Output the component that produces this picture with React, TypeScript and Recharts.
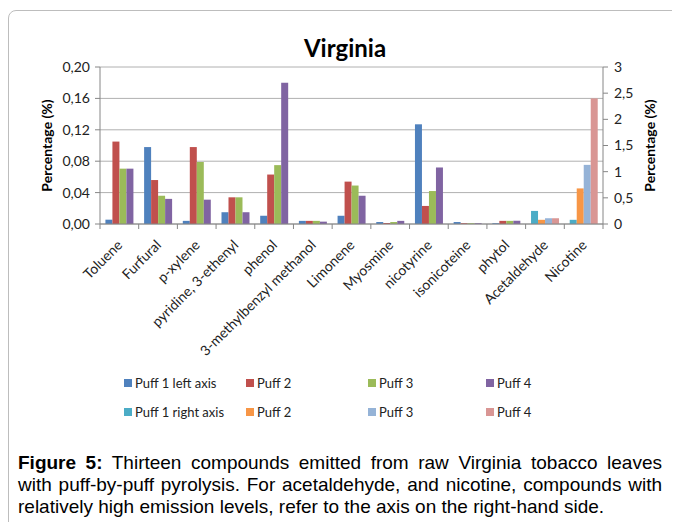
import React from 'react';
import { BarChart, Bar, XAxis, YAxis, CartesianGrid, Label } from 'recharts';

const categories = [
  'Toluene', 'Furfural', 'p-xylene', 'pyridine, 3-ethenyl', 'phenol', '3-methylbenzyl methanol',
  'Limonene', 'Myosmine', 'nicotyrine', 'isonicoteine', 'phytol', 'Acetaldehyde', 'Nicotine',
];

// left axis series (%)
const puff1Left = [0.0055, 0.098, 0.004, 0.015, 0.0105, 0.004, 0.0105, 0.0025, 0.127, 0.0025, 0.001, null, null];
const puff2Left = [0.105, 0.056, 0.098, 0.034, 0.063, 0.004, 0.054, 0.0013, 0.023, 0.001, 0.004, null, null];
const puff3Left = [0.0705, 0.036, 0.079, 0.034, 0.075, 0.004, 0.049, 0.0025, 0.042, 0.001, 0.004, null, null];
const puff4Left = [0.0705, 0.032, 0.031, 0.015, 0.18, 0.003, 0.036, 0.004, 0.072, 0.001, 0.004, null, null];

// right axis series (%)
const puff1Right = [null, null, null, null, null, null, null, null, null, null, null, 0.25, 0.08];
const puff2Right = [null, null, null, null, null, null, null, null, null, null, null, 0.08, 0.68];
const puff3Right = [null, null, null, null, null, null, null, null, null, null, null, 0.11, 1.13];
const puff4Right = [null, null, null, null, null, null, null, null, null, null, null, 0.11, 2.4];

const leftTicks = [0, 0.04, 0.08, 0.12, 0.16, 0.2];
const rightTicks = [0, 0.5, 1, 1.5, 2, 2.5, 3];

const leftSeries = [
  { key: 'l1', name: 'Puff 1 left axis', color: '#4F81BD' },
  { key: 'l2', name: 'Puff 2', color: '#C0504D' },
  { key: 'l3', name: 'Puff 3', color: '#9BBB59' },
  { key: 'l4', name: 'Puff 4', color: '#8064A2' },
];
const rightSeries = [
  { key: 'r1', name: 'Puff 1 right axis', color: '#4BACC6' },
  { key: 'r2', name: 'Puff 2', color: '#F79646' },
  { key: 'r3', name: 'Puff 3', color: '#95B3D7' },
  { key: 'r4', name: 'Puff 4', color: '#D99694' },
];

const data = categories.map((name, i) => ({
  name,
  l1: puff1Left[i], l2: puff2Left[i], l3: puff3Left[i], l4: puff4Left[i],
  r1: puff1Right[i], r2: puff2Right[i], r3: puff3Right[i], r4: puff4Right[i],
}));

const font = 'Lato, "Open Sans", sans-serif';
const comma = (v: number, d: number) => v.toFixed(d).replace('.', ',');

const CategoryTick = (props: any) => {
  const { x, y, payload, index } = props;
  const half = payload.offset || 19.35;
  return (
    <g>
      {index === 0 && <line x1={x - half} y1={y} x2={x - half} y2={y + 5} stroke="#868686" />}
      <line x1={x + half} y1={y} x2={x + half} y2={y + 5} stroke="#868686" />
      <text
        x={x + 4}
        y={y + 22}
        transform={`rotate(-45, ${x + 4}, ${y + 22})`}
        textAnchor="end"
        fontSize={14}
        fontFamily={font}
        fill="#222"
      >
        {payload.value}
      </text>
    </g>
  );
};

const legendCols = [116, 238, 360, 478];

export default function App() {
  return (
    <div style={{ position: 'relative', width: 672, height: 514, overflow: 'hidden', background: '#fff' }}>
      <div
        style={{
          position: 'absolute', left: 0, top: 2, width: 720, height: 600,
          border: '1px solid #bdbdbd', borderRadius: 8, boxSizing: 'border-box',
        }}
      />
      <div
        style={{
          position: 'absolute', left: 237, top: 25, width: 200, textAlign: 'center',
          fontFamily: font, fontWeight: 700, fontSize: 24, color: '#000',
        }}
      >
        Virginia
      </div>
      <div style={{ position: 'absolute', left: 0, top: 2 }}>
        <BarChart
          width={672}
          height={420}
          data={data}
          margin={{ top: 57, left: 28, right: 28, bottom: 0 }}
          barCategoryGap="14%"
          barGap={0}
        >
          <CartesianGrid yAxisId="left" xAxisId="a" vertical={false} stroke="#b0b0b0" />
          <XAxis
            xAxisId="a"
            dataKey="name"
            interval={0}
            height={206}
            tickLine={false}
            tickSize={0}
            tickMargin={0}
            stroke="#868686"
            tick={<CategoryTick />}
          />
          <XAxis xAxisId="b" dataKey="name" hide />
          <YAxis
            yAxisId="left"
            width={64}
            domain={[0, 0.2]}
            ticks={leftTicks}
            tickFormatter={(v: number) => comma(v, 2)}
            stroke="#868686"
            tick={{ fill: '#222', fontSize: 14, fontFamily: font }}
            tickSize={5}
            tickMargin={5}
          >
            <Label
              value="Percentage (%)"
              angle={-90}
              position="insideLeft"
              offset={11}
              textAnchor="middle"
              style={{ fontFamily: font, fontWeight: 700, fontSize: 14, fill: '#000' }}
            />
          </YAxis>
          <YAxis
            yAxisId="right"
            orientation="right"
            width={49}
            domain={[0, 3]}
            ticks={rightTicks}
            tickFormatter={(v: number) => (Number.isInteger(v) ? String(v) : comma(v, 1))}
            stroke="#868686"
            tick={{ fill: '#222', fontSize: 14, fontFamily: font }}
            tickSize={5}
            tickMargin={6}
          >
            <Label
              value="Percentage (%)"
              angle={-90}
              position="insideRight"
              offset={2}
              textAnchor="middle"
              style={{ fontFamily: font, fontWeight: 700, fontSize: 14, fill: '#000' }}
            />
          </YAxis>
          {leftSeries.map((s) => (
            <Bar key={s.key} dataKey={s.key} name={s.name} xAxisId="a" yAxisId="left" fill={s.color} isAnimationActive={false} />
          ))}
          {rightSeries.map((s) => (
            <Bar key={s.key} dataKey={s.key} name={s.name} xAxisId="b" yAxisId="right" fill={s.color} isAnimationActive={false} />
          ))}
        </BarChart>
      </div>
      {[leftSeries, rightSeries].map((row, ri) => (
        <div key={ri}>
          {row.map((s, ci) => (
            <div
              key={s.key}
              style={{
                position: 'absolute', left: legendCols[ci], top: 366 + ri * 29, height: 18,
                display: 'flex', alignItems: 'center', fontFamily: font, fontSize: 13, color: '#222',
                whiteSpace: 'nowrap',
              }}
            >
              <span style={{ display: 'inline-block', width: 8, height: 8, background: s.color, marginRight: 3 }} />
              {s.name}
            </div>
          ))}
        </div>
      ))}
      <div
        style={{
          position: 'absolute', left: 10, top: 444, width: 644,
          fontFamily: '"Liberation Sans", Arial, sans-serif',
          fontSize: 19, lineHeight: '22px', color: '#000',
        }}
      >
        <div style={{ textAlign: 'justify', textAlignLast: 'justify', whiteSpace: 'nowrap' }}>
          <b>Figure 5:</b> Thirteen compounds emitted from raw Virginia tobacco leaves
        </div>
        <div style={{ textAlign: 'justify', textAlignLast: 'justify' }}>
          with puff-by-puff pyrolysis. For acetaldehyde, and nicotine, compounds with
        </div>
        <div style={{ whiteSpace: 'nowrap' }}>relatively high emission levels, refer to the axis on the right-hand side.</div>
      </div>
    </div>
  );
}
